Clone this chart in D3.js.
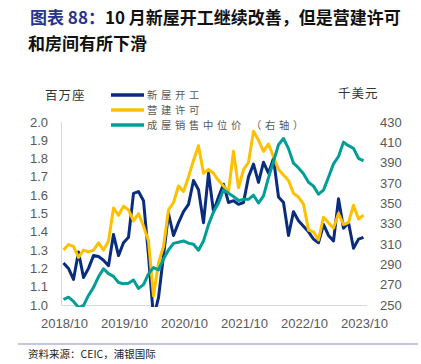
<!DOCTYPE html>
<html>
<head>
<meta charset="utf-8">
<script src="https://cdn.jsdelivr.net/npm/d3@7"></script>
<style>
  body { margin: 0; background: #fff; }
  svg { display: block; }
  .cjk { font-family: "Noto Sans CJK SC", "Noto Sans", sans-serif; }
  .num { font-family: "Liberation Sans", Arial, sans-serif; }
</style>
</head>
<body>
<svg id="chart" width="421" height="364"></svg>
<script>
// Monthly data, 2018/10 .. 2023/10 (61 months)
// 新屋开工 (百万座, left axis)
var housingStarts = [1.23, 1.20, 1.14, 1.29, 1.15, 1.20, 1.27, 1.265, 1.245, 1.215, 1.385, 1.27,
  1.34, 1.37, 1.61, 1.62, 1.57, 1.27, 0.93, 1.04, 1.27, 1.50, 1.38, 1.45,
  1.51, 1.55, 1.68, 1.63, 1.45, 1.72, 1.51, 1.59, 1.66, 1.56, 1.57, 1.55,
  1.56, 1.70, 1.77, 1.67, 1.78, 1.72, 1.80, 1.59, 1.56, 1.38, 1.51, 1.46,
  1.43, 1.40, 1.36, 1.34, 1.44, 1.38, 1.35, 1.58, 1.42, 1.45, 1.31, 1.36, 1.37];

// 营建许可 (百万座, left axis)
var buildingPermits = [1.30, 1.33, 1.32, 1.26, 1.30, 1.29, 1.30, 1.34, 1.30, 1.35, 1.53, 1.49,
  1.54, 1.52, 1.46, 1.50, 1.43, 1.35, 1.05, 1.23, 1.32, 1.52, 1.56, 1.65,
  1.62, 1.70, 1.79, 1.87, 1.72, 1.74, 1.72, 1.68, 1.65, 1.62, 1.84, 1.64,
  1.74, 1.78, 1.95, 1.90, 1.84, 1.88, 1.81, 1.74, 1.71, 1.68, 1.61, 1.59,
  1.55, 1.41, 1.40, 1.355, 1.48, 1.45, 1.42, 1.50, 1.44, 1.45, 1.545, 1.47, 1.49];

// 成屋销售中位价 (千美元, right axis)
var medianPrice = [255.4, 257.7, 253.6, 247.5, 249.5, 259.4, 267.3, 277.7, 285.7, 280.8, 278.2, 272.1,
  270.9, 271.3, 274.5, 266.3, 270.1, 280.6, 286.8, 284.6, 295.3, 304.1, 310.6, 311.8,
  313.0, 310.8, 309.8, 303.9, 313.0, 329.1, 341.6, 350.3, 363.3, 359.9, 356.7, 352.8,
  353.9, 353.9, 358.0, 350.3, 357.3, 375.3, 391.2, 407.6, 413.8, 403.8, 389.5, 384.8,
  379.1, 370.7, 366.9, 359.0, 363.0, 375.7, 388.8, 396.1, 410.2, 406.7, 404.1, 394.3, 391.8];

var leftTicks = [1.0, 1.1, 1.2, 1.3, 1.4, 1.5, 1.6, 1.7, 1.8, 1.9, 2.0];
var rightTicks = [250, 270, 290, 310, 330, 350, 370, 390, 410, 430];
var xTickLabels = ["2018/10", "2019/10", "2020/10", "2021/10", "2022/10", "2023/10"];

var seriesNames = ["新屋开工", "营建许可", "成屋销售中位价 （右轴）"];
var seriesColors = ["#0A2C7E", "#FFC000", "#009E97"];

// month labels for categories
var months = [];
for (var m = 0; m < housingStarts.length; m++) {
  var yr = 2018 + Math.floor((9 + m) / 12);
  var mo = ((9 + m) % 12) + 1;
  months.push(yr + "/" + mo);
}

var svg = d3.select("#chart");

var PLOT_LEFT = 61, PLOT_RIGHT = 366, PLOT_TOP = 122, PLOT_BOTTOM = 305;

var xScale = d3.scaleLinear()
  .domain([-0.5, months.length - 0.5])
  .range([PLOT_LEFT, PLOT_RIGHT]);

var yLeft = d3.scaleLinear().domain([1.0, 2.0]).range([PLOT_BOTTOM, PLOT_TOP]);
var yRight = d3.scaleLinear().domain([250, 430]).range([PLOT_BOTTOM, PLOT_TOP]);

// ##### Title #####
var title = svg.append("text")
  .attr("class", "cjk")
  .attr("x", 30)
  .attr("y", 24)
  .style("font-size", "17px")
  .style("font-weight", "bold")
  .style("fill", "#111");
title.append("tspan").style("fill", "#27348B").text("图表 88：");
title.append("tspan").text("10 月新屋开工继续改善，但是营建许可");

svg.append("text")
  .attr("class", "cjk")
  .attr("x", 28)
  .attr("y", 50)
  .style("font-size", "17px")
  .style("font-weight", "bold")
  .style("fill", "#111")
  .text("和房间有所下滑");

// ##### Axis units #####
svg.append("text").attr("class", "cjk")
  .attr("x", 45).attr("y", 100)
  .style("font-size", "12.5px").style("letter-spacing", "1px").style("fill", "#333")
  .text("百万座");

svg.append("text").attr("class", "cjk")
  .attr("x", 338).attr("y", 98)
  .style("font-size", "12.5px").style("letter-spacing", "1px").style("fill", "#333")
  .text("千美元");

// ##### Axes #####
svg.append("line")
  .attr("x1", PLOT_LEFT + 0.5).attr("x2", PLOT_LEFT + 0.5)
  .attr("y1", PLOT_TOP).attr("y2", PLOT_BOTTOM)
  .style("stroke", "#D9D9D9").style("stroke-width", 1);

svg.append("line")
  .attr("x1", PLOT_LEFT).attr("x2", PLOT_RIGHT + 1)
  .attr("y1", PLOT_BOTTOM + 0.5).attr("y2", PLOT_BOTTOM + 0.5)
  .style("stroke", "#D9D9D9").style("stroke-width", 1);

svg.selectAll(".ytick-left")
  .data(leftTicks)
  .enter()
  .append("text")
  .attr("class", "num ytick-left")
  .attr("x", 48)
  .attr("y", function (d) { return yLeft(d); })
  .attr("dy", "0.35em")
  .attr("text-anchor", "end")
  .style("font-size", "13px")
  .style("fill", "#595959")
  .text(function (d) { return d.toFixed(1); });

svg.selectAll(".ytick-right")
  .data(rightTicks)
  .enter()
  .append("text")
  .attr("class", "num ytick-right")
  .attr("x", 380)
  .attr("y", function (d) { return yRight(d); })
  .attr("dy", "0.35em")
  .style("font-size", "13px")
  .style("fill", "#595959")
  .text(function (d) { return d; });

svg.selectAll(".xtick")
  .data(xTickLabels)
  .enter()
  .append("text")
  .attr("class", "num xtick")
  .attr("x", function (d, i) { return xScale(i * 12) + 1; })
  .attr("y", 328)
  .attr("text-anchor", "middle")
  .style("font-size", "13px")
  .style("fill", "#595959")
  .text(function (d) { return d; });

// ##### Lines #####
svg.append("clipPath").attr("id", "plotClip")
  .append("rect")
  .attr("x", 0).attr("y", PLOT_TOP - 10)
  .attr("width", 421).attr("height", PLOT_BOTTOM - PLOT_TOP + 12);

var lineLeft = d3.line()
  .x(function (d, i) { return xScale(i); })
  .y(function (d) { return yLeft(d); });

var lineRight = d3.line()
  .x(function (d, i) { return xScale(i); })
  .y(function (d) { return yRight(d); });

var lines = svg.append("g").attr("clip-path", "url(#plotClip)");

lines.append("path").datum(housingStarts)
  .attr("d", lineLeft)
  .style("fill", "none").style("stroke", seriesColors[0])
  .style("stroke-width", 3).style("stroke-linejoin", "round");

lines.append("path").datum(buildingPermits)
  .attr("d", lineLeft)
  .style("fill", "none").style("stroke", seriesColors[1])
  .style("stroke-width", 3).style("stroke-linejoin", "round");

lines.append("path").datum(medianPrice)
  .attr("d", lineRight)
  .style("fill", "none").style("stroke", seriesColors[2])
  .style("stroke-width", 3).style("stroke-linejoin", "round");

// ##### Legend #####
var legend = svg.selectAll(".legend")
  .data(seriesNames)
  .enter()
  .append("g")
  .attr("class", "legend")
  .attr("transform", function (d, i) { return "translate(111," + (95 + i * 15) + ")"; });

legend.append("line")
  .attr("x1", 0).attr("x2", 33)
  .style("stroke", function (d, i) { return seriesColors[i]; })
  .style("stroke-width", 3.3);

legend.append("text")
  .attr("class", "cjk")
  .attr("x", 36)
  .attr("dy", "0.36em")
  .style("font-size", "10.3px")
  .style("letter-spacing", "3.7px")
  .style("fill", "#595959")
  .text(function (d) { return d; });

// ##### Footer #####
svg.append("line")
  .attr("x1", 18).attr("x2", 418)
  .attr("y1", 344).attr("y2", 344)
  .style("stroke", "#B3B3D1").style("stroke-width", 1.5);

svg.append("text").attr("class", "cjk")
  .attr("x", 28).attr("y", 358)
  .style("font-size", "10.5px").style("fill", "#222")
  .text("资料来源：CEIC，浦银国际");
</script>
</body>
</html>
